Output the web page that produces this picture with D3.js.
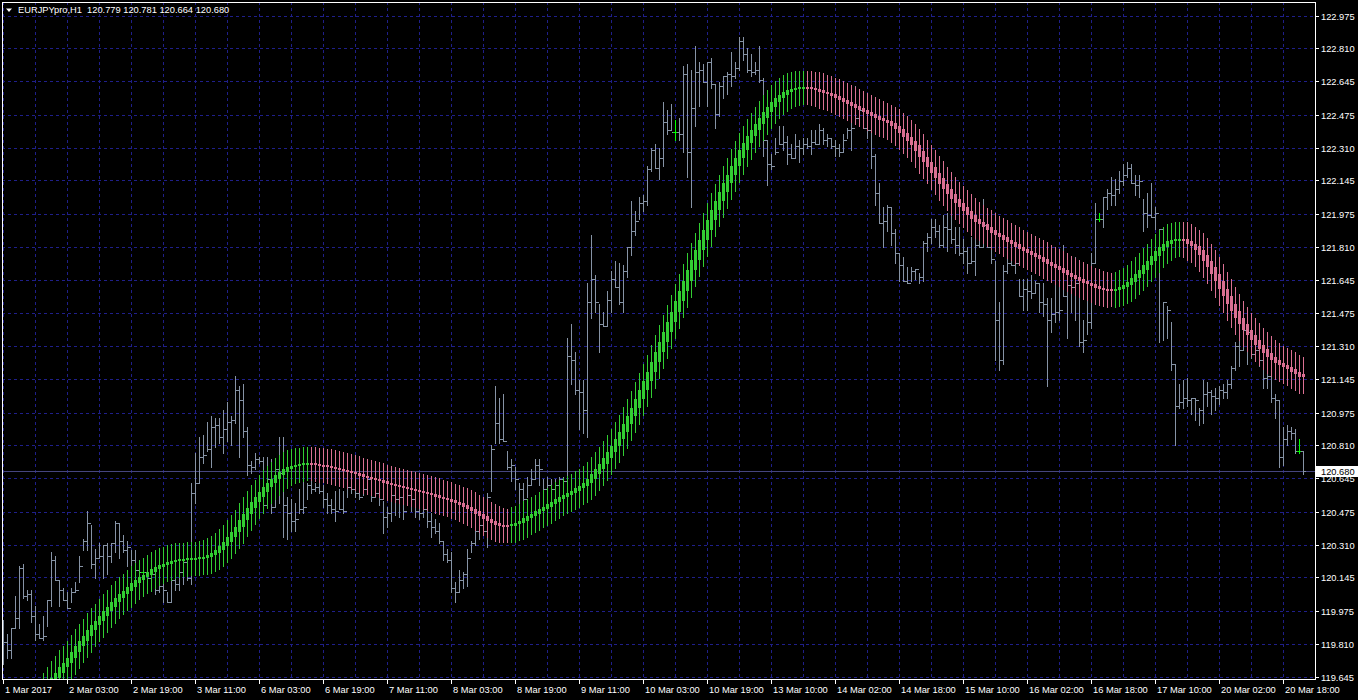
<!DOCTYPE html>
<html>
<head>
<meta charset="utf-8">
<title>EURJPYpro,H1</title>
<script src="https://d3js.org/d3.v7.min.js"></script>
<style>
  body { margin: 0; background: #000; }
  svg { display: block; }
  text { font-family: "Liberation Sans", Arial, sans-serif; font-size: 9.3px; fill: #fff; }
</style>
</head>
<body>
<div id="chart"></div>
<script>
// time axis labels, one every 16 hourly bars
const timeLabels = ["1 Mar 2017", "2 Mar 03:00", "2 Mar 19:00", "3 Mar 11:00", "6 Mar 03:00", "6 Mar 19:00",
  "7 Mar 11:00", "8 Mar 03:00", "8 Mar 19:00", "9 Mar 11:00", "10 Mar 03:00", "10 Mar 19:00", "13 Mar 10:00",
  "14 Mar 02:00", "14 Mar 18:00", "15 Mar 10:00", "16 Mar 02:00", "16 Mar 18:00", "17 Mar 10:00",
  "20 Mar 02:00", "20 Mar 18:00"];

const priceLabels = ["122.975", "122.810", "122.645", "122.475", "122.310", "122.145", "121.975", "121.810",
  "121.645", "121.475", "121.310", "121.145", "120.975", "120.810", "120.645", "120.475", "120.310",
  "120.145", "119.975", "119.810", "119.645"];

const lastPrice = 120.680;

// H1 bars: high, low, close
const hi = [
  119.93, 119.86, 119.89, 120.05, 120.20, 120.21, 120.08, 120.08, 120.00, 119.91,
  119.95, 120.03, 120.27, 120.25, 120.13, 120.09, 120.07, 120.09, 120.12, 120.25,
  120.34, 120.48, 120.41, 120.29, 120.32, 120.31, 120.32, 120.32, 120.43, 120.42,
  120.36, 120.33, 120.28, 120.28, 120.22, 120.20, 120.17, 120.17, 120.15, 120.15,
  120.15, 120.07, 120.15, 120.14, 120.21, 120.24, 120.24, 120.62, 120.77, 120.85,
  120.86, 120.93, 120.96, 120.95, 120.95, 120.99, 121.03, 120.96, 121.16, 121.11,
  121.12, 120.90, 120.73, 120.77, 120.75, 120.75, 120.75, 120.74, 120.74, 120.85,
  120.85, 120.55, 120.54, 120.52, 120.59, 120.63, 120.62, 120.63, 120.62, 120.62,
  120.61, 120.57, 120.54, 120.58, 120.59, 120.58, 120.62, 120.64, 120.63, 120.62,
  120.62, 120.68, 120.64, 120.65, 120.63, 120.53, 120.50, 120.59, 120.56, 120.57,
  120.55, 120.62, 120.59, 120.55, 120.56, 120.55, 120.48, 120.47, 120.44, 120.42,
  120.33, 120.29, 120.27, 120.12, 120.18, 120.17, 120.29, 120.33, 120.40, 120.45,
  120.42, 120.57, 120.81, 121.11, 121.05, 121.07, 120.78, 120.74, 120.70, 120.62,
  120.62, 120.65, 120.69, 120.74, 120.74, 120.64, 120.65, 120.64, 120.64, 120.65,
  120.65, 121.35, 121.42, 121.28, 121.14, 121.14, 121.63, 121.87, 121.67, 121.52,
  121.48, 121.59, 121.69, 121.74, 121.73, 121.72, 121.81, 122.04, 121.99, 122.06,
  122.07, 122.22, 122.31, 122.33, 122.31, 122.54, 122.50, 122.53, 122.45, 122.46,
  122.72, 122.73, 122.70, 122.82, 122.74, 122.73, 122.74, 122.76, 122.63, 122.64,
  122.67, 122.69, 122.79, 122.74, 122.87, 122.87, 122.81, 122.78, 122.74, 122.82,
  122.66, 122.35, 122.28, 122.36, 122.42, 122.42, 122.37, 122.33, 122.38, 122.35,
  122.36, 122.36, 122.40, 122.40, 122.43, 122.41, 122.38, 122.36, 122.35, 122.33,
  122.38, 122.41, 122.44, 122.62, 122.50, 122.56, 122.55, 122.41, 122.28, 122.13,
  122.01, 122.02, 122.01, 121.90, 121.78, 121.76, 121.71, 121.71, 121.70, 121.68,
  121.84, 121.88, 121.95, 121.95, 121.92, 121.97, 121.98, 122.00, 121.91, 121.91,
  121.85, 121.81, 121.86, 121.93, 121.98, 122.05, 121.95, 121.95, 121.74, 121.53,
  121.72, 121.90, 121.88, 121.90, 121.65, 121.65, 121.65, 121.67, 121.64, 121.63,
  121.63, 121.55, 121.55, 121.63, 121.79, 121.82, 121.68, 121.63, 121.76, 121.60,
  121.44, 121.55, 121.78, 122.03, 121.98, 122.06, 122.10, 122.16, 122.15, 122.19,
  122.23, 122.24, 122.23, 122.17, 122.17, 122.05, 122.08, 122.13, 122.01, 121.90,
  121.53, 121.51, 121.43, 121.22, 121.12, 121.14, 121.15, 121.05, 121.05, 121.00,
  121.14, 121.13, 121.09, 121.10, 121.11, 121.12, 121.14, 121.21, 121.33, 121.38,
  121.43, 121.39, 121.38, 121.33, 121.29, 121.29, 121.20, 121.20, 121.07, 121.04,
  120.90, 120.91, 120.90, 120.89, 120.84, 120.781
];

const lo = [
  119.71, 119.74, 119.74, 119.89, 119.89, 120.04, 120.03, 119.92, 119.83, 119.84,
  119.83, 119.90, 120.00, 120.13, 120.00, 120.03, 119.99, 120.02, 120.07, 120.12,
  120.28, 120.28, 120.19, 120.14, 120.24, 120.14, 120.16, 120.22, 120.27, 120.24,
  120.27, 120.20, 120.15, 120.17, 120.15, 120.10, 120.13, 120.09, 120.06, 120.07,
  120.02, 120.02, 120.02, 120.08, 120.08, 120.11, 120.13, 120.11, 120.52, 120.62,
  120.72, 120.78, 120.70, 120.80, 120.82, 120.77, 120.83, 120.81, 120.92, 120.75,
  120.85, 120.66, 120.67, 120.69, 120.72, 120.47, 120.50, 120.47, 120.50, 120.52,
  120.35, 120.34, 120.38, 120.38, 120.47, 120.47, 120.54, 120.57, 120.58, 120.57,
  120.50, 120.47, 120.47, 120.43, 120.49, 120.47, 120.55, 120.57, 120.55, 120.54,
  120.56, 120.57, 120.53, 120.55, 120.51, 120.37, 120.40, 120.43, 120.46, 120.45,
  120.44, 120.52, 120.48, 120.45, 120.44, 120.45, 120.40, 120.35, 120.37, 120.32,
  120.23, 120.22, 120.07, 120.02, 120.07, 120.09, 120.10, 120.27, 120.31, 120.34,
  120.36, 120.30, 120.58, 120.82, 120.82, 120.83, 120.69, 120.63, 120.59, 120.52,
  120.50, 120.55, 120.61, 120.64, 120.61, 120.52, 120.59, 120.54, 120.59, 120.55,
  120.56, 120.55, 121.12, 121.07, 120.89, 120.87, 120.85, 121.45, 121.48, 121.28,
  121.41, 121.41, 121.48, 121.61, 121.52, 121.48, 121.66, 121.77, 121.87, 121.95,
  121.99, 122.02, 122.19, 122.21, 122.15, 122.22, 122.38, 122.40, 122.35, 122.35,
  122.29, 122.16, 122.01, 122.42, 122.52, 122.64, 122.52, 122.61, 122.41, 122.47,
  122.56, 122.58, 122.62, 122.66, 122.70, 122.75, 122.69, 122.67, 122.68, 122.64,
  122.27, 122.12, 122.20, 122.28, 122.33, 122.30, 122.23, 122.26, 122.26, 122.24,
  122.28, 122.31, 122.28, 122.33, 122.33, 122.33, 122.32, 122.31, 122.27, 122.27,
  122.29, 122.36, 122.30, 122.45, 122.42, 122.41, 122.36, 122.21, 122.02, 121.93,
  121.81, 121.89, 121.82, 121.73, 121.64, 121.64, 121.63, 121.64, 121.65, 121.63,
  121.64, 121.79, 121.83, 121.86, 121.81, 121.81, 121.79, 121.83, 121.78, 121.77,
  121.73, 121.68, 121.73, 121.67, 121.81, 121.81, 121.81, 121.73, 121.24, 121.19,
  121.22, 121.68, 121.72, 121.68, 121.56, 121.49, 121.49, 121.55, 121.58, 121.48,
  121.46, 121.11, 121.38, 121.43, 121.44, 121.56, 121.35, 121.48, 121.44, 121.31,
  121.28, 121.37, 121.40, 121.73, 121.94, 121.91, 122.00, 122.02, 122.02, 122.08,
  122.12, 122.16, 122.13, 122.07, 122.06, 121.89, 121.91, 121.96, 121.90, 121.33,
  121.34, 121.35, 121.19, 120.81, 121.00, 121.00, 121.01, 120.97, 120.94, 120.91,
  120.92, 121.01, 120.97, 120.99, 121.02, 121.05, 121.05, 121.10, 121.19, 121.21,
  121.29, 121.22, 121.25, 121.24, 121.21, 121.10, 121.10, 121.03, 120.95, 120.70,
  120.71, 120.81, 120.84, 120.77, 120.77, 120.664
];

const cl = [
  119.82, 119.78, 119.89, 119.94, 120.19, 120.05, 120.06, 119.95, 119.86, 119.84,
  119.85, 120.03, 120.23, 120.13, 120.08, 120.03, 119.99, 120.07, 120.08, 120.20,
  120.33, 120.42, 120.21, 120.24, 120.25, 120.31, 120.25, 120.32, 120.42, 120.33,
  120.28, 120.30, 120.23, 120.18, 120.17, 120.17, 120.14, 120.16, 120.08, 120.10,
  120.08, 120.02, 120.13, 120.11, 120.17, 120.22, 120.14, 120.57, 120.62, 120.75,
  120.76, 120.79, 120.90, 120.91, 120.85, 120.89, 120.93, 120.94, 121.09, 121.04,
  120.88, 120.71, 120.70, 120.74, 120.73, 120.51, 120.64, 120.50, 120.69, 120.67,
  120.51, 120.47, 120.43, 120.44, 120.49, 120.50, 120.61, 120.59, 120.60, 120.58,
  120.54, 120.51, 120.49, 120.48, 120.49, 120.48, 120.60, 120.59, 120.57, 120.55,
  120.59, 120.64, 120.55, 120.57, 120.54, 120.45, 120.47, 120.56, 120.54, 120.55,
  120.48, 120.56, 120.54, 120.48, 120.47, 120.49, 120.43, 120.40, 120.38, 120.33,
  120.26, 120.23, 120.09, 120.07, 120.13, 120.16, 120.24, 120.32, 120.38, 120.41,
  120.38, 120.55, 120.79, 120.92, 120.84, 120.83, 120.70, 120.71, 120.64, 120.59,
  120.54, 120.61, 120.64, 120.71, 120.69, 120.59, 120.61, 120.59, 120.61, 120.64,
  120.63, 121.26, 121.24, 121.09, 121.08, 120.99, 121.53, 121.65, 121.53, 121.42,
  121.41, 121.54, 121.65, 121.61, 121.53, 121.69, 121.81, 121.89, 121.94, 122.03,
  122.04, 122.20, 122.30, 122.21, 122.26, 122.44, 122.40, 122.39, 122.39, 122.38,
  122.68, 122.29, 122.51, 122.69, 122.70, 122.64, 122.74, 122.63, 122.48, 122.62,
  122.67, 122.68, 122.67, 122.71, 122.85, 122.78, 122.70, 122.69, 122.70, 122.65,
  122.35, 122.23, 122.22, 122.29, 122.33, 122.34, 122.28, 122.26, 122.32, 122.31,
  122.33, 122.32, 122.34, 122.33, 122.40, 122.35, 122.36, 122.32, 122.31, 122.29,
  122.35, 122.40, 122.41, 122.46, 122.50, 122.41, 122.40, 122.27, 122.08, 121.93,
  121.94, 122.01, 121.88, 121.78, 121.72, 121.64, 121.63, 121.69, 121.70, 121.66,
  121.83, 121.86, 121.91, 121.89, 121.82, 121.91, 121.90, 121.85, 121.82, 121.78,
  121.79, 121.73, 121.74, 121.82, 121.81, 121.92, 121.81, 121.75, 121.44, 121.24,
  121.69, 121.73, 121.72, 121.73, 121.56, 121.60, 121.59, 121.58, 121.63, 121.53,
  121.52, 121.44, 121.47, 121.48, 121.49, 121.56, 121.62, 121.61, 121.63, 121.33,
  121.34, 121.43, 121.73, 121.95, 121.95, 122.06, 122.08, 122.07, 122.10, 122.14,
  122.17, 122.21, 122.13, 122.12, 122.14, 121.98, 121.97, 121.96, 121.98, 121.90,
  121.53, 121.49, 121.22, 121.01, 121.03, 121.05, 121.04, 121.05, 121.04, 120.99,
  121.07, 121.08, 121.06, 121.05, 121.09, 121.08, 121.12, 121.20, 121.31, 121.29,
  121.39, 121.38, 121.27, 121.29, 121.24, 121.15, 121.16, 121.05, 121.04, 120.75,
  120.84, 120.88, 120.87, 120.78, 120.78, 120.680
];

// smoothed trend line (colored candles), one value per bar; null = below the visible range
const ma = [
  null, null, null, null, null, null, null, null, null, null,
  119.543, 119.578, 119.608, 119.638, 119.663, 119.694, 119.714, 119.739, 119.769, 119.800,
  119.825, 119.850, 119.880, 119.905, 119.925, 119.951, 119.976, 119.996, 120.021, 120.041,
  120.061, 120.077, 120.097, 120.117, 120.132, 120.147, 120.157, 120.172, 120.187, 120.198,
  120.208, 120.213, 120.223, 120.228, 120.233, 120.233, 120.235, 120.238, 120.238, 120.240,
  120.243, 120.248, 120.258, 120.268, 120.283, 120.303, 120.323, 120.349, 120.374, 120.399,
  120.434, 120.465, 120.495, 120.525, 120.550, 120.575, 120.601, 120.621, 120.641, 120.661,
  120.676, 120.691, 120.701, 120.706, 120.711, 120.714, 120.716, 120.716, 120.714, 120.711,
  120.706, 120.704, 120.701, 120.696, 120.691, 120.686, 120.681, 120.676, 120.671, 120.663,
  120.656, 120.651, 120.646, 120.641, 120.636, 120.628, 120.621, 120.616, 120.611, 120.606,
  120.601, 120.596, 120.590, 120.585, 120.580, 120.575, 120.570, 120.565, 120.558, 120.550,
  120.545, 120.540, 120.532, 120.525, 120.517, 120.510, 120.500, 120.490, 120.477, 120.465,
  120.452, 120.439, 120.427, 120.417, 120.409, 120.404, 120.401, 120.404, 120.412, 120.419,
  120.429, 120.442, 120.454, 120.465, 120.477, 120.490, 120.500, 120.512, 120.525, 120.538,
  120.550, 120.560, 120.570, 120.580, 120.595, 120.606, 120.621, 120.641, 120.666, 120.691,
  120.716, 120.747, 120.777, 120.807, 120.842, 120.878, 120.918, 120.958, 120.999, 121.044,
  121.089, 121.135, 121.180, 121.230, 121.281, 121.331, 121.381, 121.432, 121.482, 121.538,
  121.588, 121.638, 121.694, 121.744, 121.795, 121.845, 121.895, 121.946, 121.996, 122.041,
  122.087, 122.132, 122.172, 122.218, 122.258, 122.298, 122.334, 122.369, 122.399, 122.429,
  122.459, 122.490, 122.515, 122.540, 122.560, 122.575, 122.591, 122.601, 122.606, 122.611,
  122.613, 122.611, 122.608, 122.606, 122.601, 122.591, 122.586, 122.578, 122.570, 122.560,
  122.550, 122.540, 122.530, 122.520, 122.510, 122.500, 122.490, 122.480, 122.470, 122.459,
  122.449, 122.442, 122.432, 122.419, 122.402, 122.384, 122.364, 122.344, 122.321, 122.293,
  122.263, 122.238, 122.213, 122.182, 122.157, 122.127, 122.102, 122.077, 122.051, 122.031,
  122.011, 121.991, 121.971, 121.951, 121.936, 121.923, 121.910, 121.895, 121.880, 121.870,
  121.860, 121.845, 121.835, 121.825, 121.810, 121.800, 121.789, 121.779, 121.769, 121.759,
  121.749, 121.734, 121.724, 121.714, 121.704, 121.694, 121.679, 121.669, 121.658, 121.648,
  121.638, 121.628, 121.621, 121.613, 121.603, 121.596, 121.591, 121.588, 121.591, 121.598,
  121.608, 121.618, 121.633, 121.653, 121.674, 121.694, 121.719, 121.739, 121.764, 121.789,
  121.810, 121.825, 121.840, 121.845, 121.850, 121.848, 121.840, 121.825, 121.812, 121.795,
  121.769, 121.739, 121.709, 121.674, 121.638, 121.598, 121.563, 121.522, 121.487, 121.452,
  121.422, 121.391, 121.366, 121.341, 121.316, 121.296, 121.276, 121.255, 121.240, 121.225,
  121.215, 121.205, 121.195, 121.180, 121.170, 121.155
];
const maWick = 0.085;   // wick reach beyond the body, in price

const W = 1358, H = 700;
const frame = { left: 2, right: 1315, top: 2, bottom: 679 };

const x = d3.scaleLinear().domain([0, hi.length - 1]).range([3, 3 + 4 * (hi.length - 1)]);
const y = d3.scaleLinear().domain([119.645, 122.975]).range([676.5, 15.7]);
const px = i => Math.round(x(i));
const py = v => Math.round(y(v));

const svg = d3.select("#chart").append("svg")
  .attr("width", W)
  .attr("height", H);

svg.append("rect").attr("width", W).attr("height", H).attr("fill", "#000");

svg.append("clipPath").attr("id", "plot")
  .append("rect")
  .attr("x", frame.left + 1).attr("y", frame.top + 1)
  .attr("width", frame.right - frame.left - 1)
  .attr("height", frame.bottom - frame.top - 1);

// grid
const grid = svg.append("g")
  .attr("stroke", "#1f1f8a")
  .attr("stroke-dasharray", "3,3")
  .attr("shape-rendering", "crispEdges");

grid.selectAll(".hgrid")
  .data(priceLabels)
  .enter()
  .append("line")
  .attr("class", "hgrid")
  .attr("x1", frame.left).attr("x2", frame.right)
  .attr("y1", d => py(+d) + 0.5).attr("y2", d => py(+d) + 0.5);

grid.selectAll(".vgrid")
  .data(d3.range(0, hi.length, 8))
  .enter()
  .append("line")
  .attr("class", "vgrid")
  .attr("y1", frame.top).attr("y2", frame.bottom)
  .attr("x1", d => px(d) + 0.5).attr("x2", d => px(d) + 0.5);

// last price line
svg.append("line")
  .attr("x1", frame.left).attr("x2", frame.right)
  .attr("y1", py(lastPrice) + 0.5).attr("y2", py(lastPrice) + 0.5)
  .attr("stroke", "#45457e")
  .attr("shape-rendering", "crispEdges");

const plot = svg.append("g").attr("clip-path", "url(#plot)").attr("shape-rendering", "crispEdges");

// price bars (open = previous close)
const barColor = "#8693a5";
const bars = plot.selectAll(".bar")
  .data(d3.range(hi.length))
  .enter()
  .append("g")
  .attr("class", "bar")
  .attr("fill", i => (i > 0 && cl[i - 1] === cl[i]) ? "#00ff00" : barColor);

bars.append("rect")
  .attr("x", i => px(i))
  .attr("y", i => py(hi[i]))
  .attr("width", 1)
  .attr("height", i => Math.max(1, py(lo[i]) - py(hi[i]) + 1));

bars.filter(i => i > 0).append("rect")
  .attr("x", i => px(i) - 2)
  .attr("y", i => py(cl[i - 1]))
  .attr("width", 2)
  .attr("height", 1);

bars.append("rect")
  .attr("x", i => px(i) + 1)
  .attr("y", i => py(cl[i]))
  .attr("width", 2)
  .attr("height", 1);

// trend candles
let rising = true;
const candles = [];
ma.forEach((v, i) => {
  if (v === null) return;
  const a = ma[i - 1] != null ? ma[i - 1] : v;
  const b = ma[i + 1] != null ? ma[i + 1] : v;
  if (b > a) rising = true;
  else if (b < a) rising = false;
  candles.push({ i: i, top: Math.max(a, b), bot: Math.min(a, b), up: rising });
});

const maG = plot.selectAll(".ma")
  .data(candles)
  .enter()
  .append("g")
  .attr("class", "ma")
  .attr("fill", d => d.up ? "#32cd32" : "#db7093");

maG.append("rect")
  .attr("x", d => px(d.i))
  .attr("y", d => py(d.top + maWick))
  .attr("width", 1)
  .attr("height", d => py(d.bot - maWick) - py(d.top + maWick));

maG.append("rect")
  .attr("x", d => px(d.i) - 1)
  .attr("y", d => {
    const h = py(d.bot) - py(d.top);
    return h < 2 ? Math.round((y(d.top) + y(d.bot)) / 2) - 1 : py(d.top);
  })
  .attr("width", 3)
  .attr("height", d => Math.max(2, py(d.bot) - py(d.top)));

// frame
svg.append("rect")
  .attr("x", frame.left + 0.5).attr("y", frame.top + 0.5)
  .attr("width", frame.right - frame.left)
  .attr("height", frame.bottom - frame.top)
  .attr("fill", "none")
  .attr("stroke", "#fff")
  .attr("shape-rendering", "crispEdges");

// price axis
const yAxis = svg.append("g").attr("shape-rendering", "crispEdges");
yAxis.selectAll("line")
  .data(priceLabels)
  .enter()
  .append("line")
  .attr("x1", frame.right).attr("x2", frame.right + 4)
  .attr("y1", d => py(+d) + 0.5).attr("y2", d => py(+d) + 0.5)
  .attr("stroke", "#fff");
yAxis.selectAll("text")
  .data(priceLabels)
  .enter()
  .append("text")
  .attr("x", frame.right + 6)
  .attr("y", d => py(+d) + 0.5)
  .attr("dy", "0.35em")
  .text(d => d);

// last price tag
svg.append("rect")
  .attr("x", frame.right + 1).attr("y", py(lastPrice) - 5)
  .attr("width", W - frame.right - 1).attr("height", 11)
  .attr("fill", "#fff");
svg.append("text")
  .attr("x", frame.right + 6)
  .attr("y", py(lastPrice) + 0.5)
  .attr("dy", "0.35em")
  .style("fill", "#000")
  .text(lastPrice.toFixed(3));

// time axis
const xAxis = svg.append("g").attr("shape-rendering", "crispEdges");
xAxis.selectAll("line")
  .data(timeLabels)
  .enter()
  .append("line")
  .attr("x1", (d, k) => px(k * 16) + 0.5).attr("x2", (d, k) => px(k * 16) + 0.5)
  .attr("y1", frame.bottom).attr("y2", frame.bottom + 5)
  .attr("stroke", "#fff");
xAxis.selectAll("text")
  .data(timeLabels)
  .enter()
  .append("text")
  .attr("x", (d, k) => px(k * 16) + 2)
  .attr("y", frame.bottom + 14)
  .text(d => d);

// header
svg.append("path")
  .attr("d", "M6,8.5 L12,8.5 L9,12 Z")
  .attr("fill", "#fff");
svg.append("text")
  .attr("x", 18)
  .attr("y", 13)
  .attr("xml:space", "preserve")
  .style("white-space", "pre")
  .text("EURJPYpro,H1  120.779 120.781 120.664 120.680");
</script>
</body>
</html>
